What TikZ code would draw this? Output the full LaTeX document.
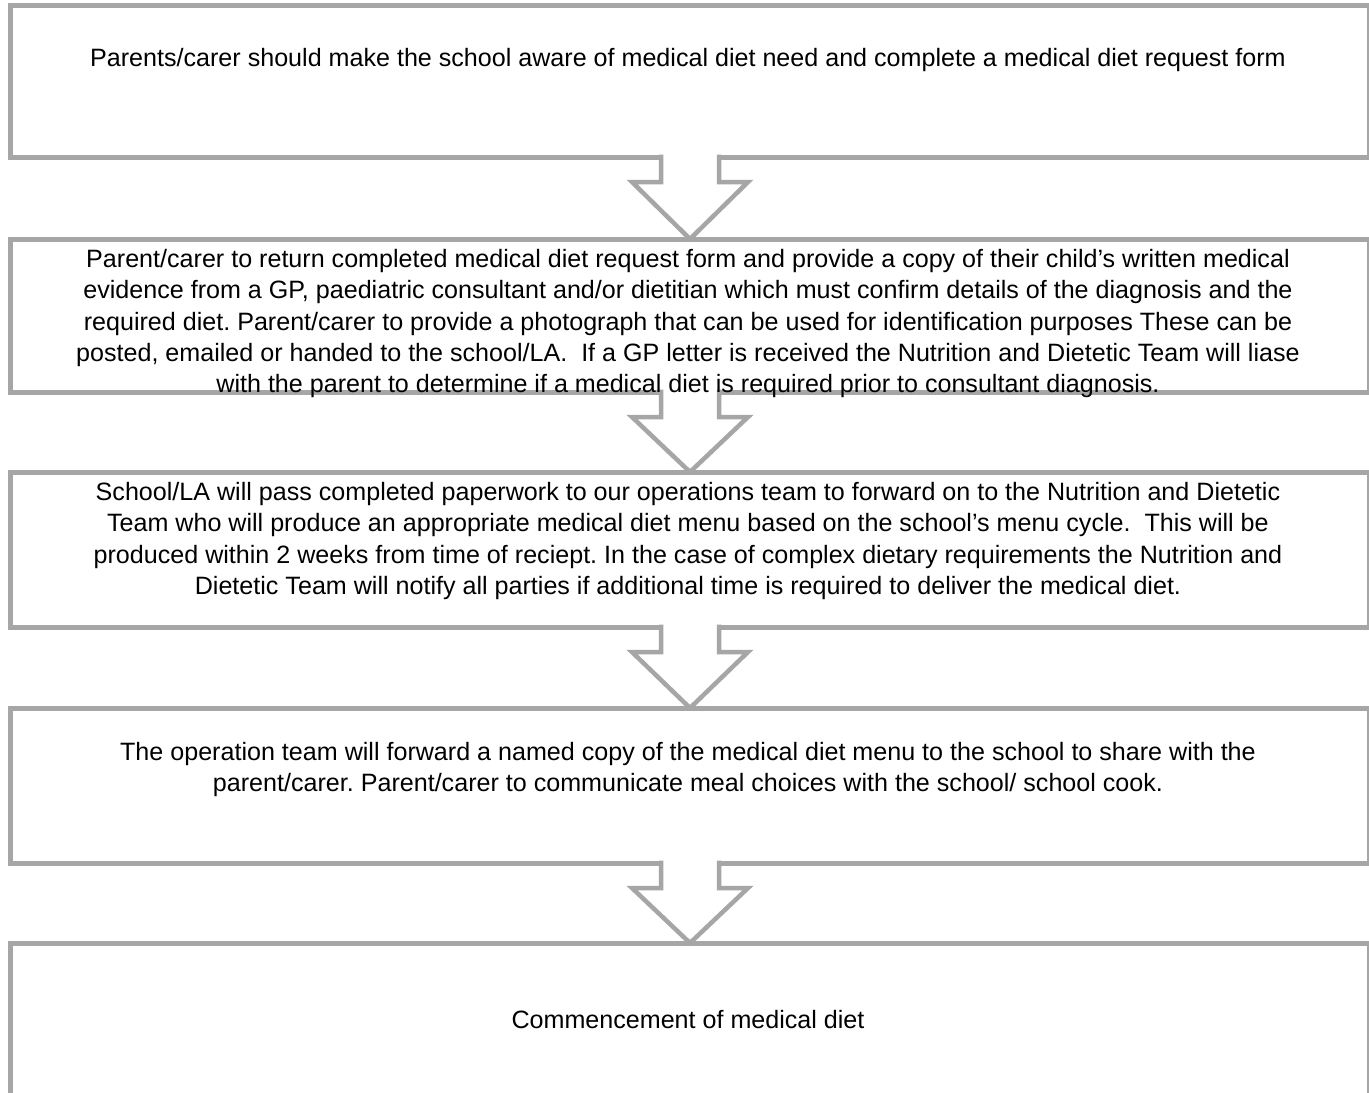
\documentclass[tikz,border=0pt]{standalone}
\usepackage{fontspec}
\setmainfont{Liberation Sans}
\usetikzlibrary{calc}
\definecolor{boxgray}{RGB}{166,166,166}
\frenchspacing
\newcommand\blockarrow[2]{%
  \path (#1.south) coordinate (#1-a) (#2.north) coordinate (#2-t);
  \fill[white] ($(#1-a)+(-29,3)$) rectangle ($(#1-a)+(29,-25)$);
  \draw[arrowline] ($(#1-a)+(-29,2.5)$) -- ($(#1-a)+(-29,-25)$) -- ($(#1-a)+(-58,-25)$) -- (#2-t)
     -- ($(#1-a)+(58,-25)$) -- ($(#1-a)+(29,-25)$) -- ($(#1-a)+(29,2.5)$);
}
\begin{document}
\begin{tikzpicture}[x=1pt,y=1pt,
  stagebox/.style={rectangle, draw=boxgray, line width=5pt, minimum width=1359pt, inner sep=0pt, outer sep=0pt},
  stagetext/.style={font=\fontsize{25.1pt}{31.2pt}\selectfont, align=center, inner sep=0pt, outer sep=0pt, anchor=north, text=black},
  arrowline/.style={draw=boxgray, line width=4.5pt, line join=miter}]
\useasboundingbox (0,0) rectangle (1369,-1093);
\fill[white] (0,0) rectangle (1369,-1093);

\node[stagebox, minimum height=152pt] (b1) at (690,-81) {};
\node[stagebox, minimum height=153pt] (b2) at (690,-315.5) {};
\node[stagebox, minimum height=155pt] (b3) at (690,-549.5) {};
\node[stagebox, minimum height=155pt] (b4) at (690,-785.5) {};
\node[stagebox, minimum height=160pt] (b5) at (690,-1023) {};

\blockarrow{b1}{b2}
\blockarrow{b2}{b3}
\blockarrow{b3}{b4}
\blockarrow{b4}{b5}

\node[stagetext] (t1) at (688,-48.5) {Parents/carer should make the school aware of medical diet need and complete a medical diet request form};
\node[stagetext] (t2) at (688,-249.5) {Parent/carer to return completed medical diet request form and provide a copy of their child’s written medical\\
evidence from a GP, paediatric consultant and/or dietitian which must confirm details of the diagnosis and the\\
required diet. Parent/carer to provide a photograph that can be used for identification purposes These can be\\
posted, emailed or handed to the school/LA.\ \ If a GP letter is received the Nutrition and Dietetic Team will liase\\
with the parent to determine if a medical diet is required prior to consultant diagnosis.};
\node[stagetext] (t3) at (688,-482.5) {School/LA will pass completed paperwork to our operations team to forward on to the Nutrition and Dietetic\\
Team who will produce an appropriate medical diet menu based on the school’s menu cycle.\ \ This will be\\
produced within 2 weeks from time of reciept. In the case of complex dietary requirements the Nutrition and\\
Dietetic Team will notify all parties if additional time is required to deliver the medical diet.};
\node[stagetext] (t4) at (688,-742.5) {The operation team will forward a named copy of the medical diet menu to the school to share with the\\
parent/carer. Parent/carer to communicate meal choices with the school/ school cook.};
\node[stagetext] (t5) at (688,-1010.5) {Commencement of medical diet};
\end{tikzpicture}
\end{document}
